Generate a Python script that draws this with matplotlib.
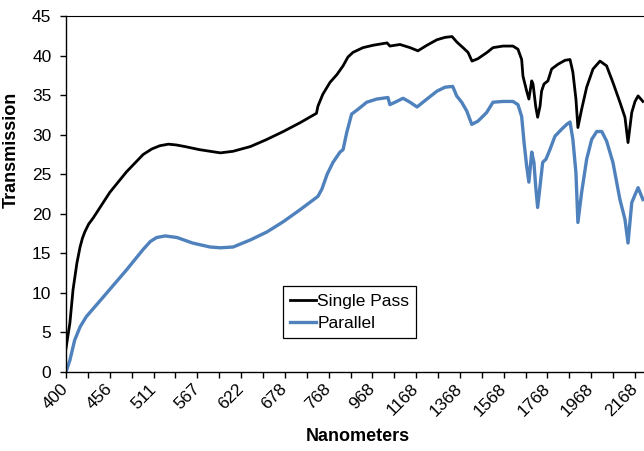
import matplotlib
matplotlib.use("Agg")
import matplotlib.pyplot as plt
import numpy as np

plt.rcParams['font.family'] = ['Liberation Sans', 'DejaVu Sans']

# category-style x axis: one label every 10 samples, as in the source sheet
tick_labels = ["400", "456", "511", "567", "622", "678", "768", "968",
               "1168", "1368", "1568", "1768", "1968", "2168"]

single_nm = [400, 405, 409, 414, 418, 421, 424, 429, 435, 456, 477, 498, 509,
             519, 530, 540, 551, 570, 583, 596, 612, 634, 655, 676, 709, 743,
             746, 756, 774, 806, 834, 856, 879, 925, 971, 1035, 1048, 1094,
             1140, 1176, 1217, 1263, 1300, 1332, 1354, 1382, 1405, 1423, 1450,
             1492, 1519, 1565, 1610, 1633, 1650, 1656, 1673, 1683, 1696, 1702,
             1714, 1723, 1734, 1741, 1752, 1770, 1787, 1816, 1848, 1871, 1884,
             1898, 1907, 1924, 1947, 1976, 2008, 2038, 2067, 2099, 2122, 2136,
             2153, 2168, 2182, 2204]
single_t = [3.0, 6.2, 10.4, 13.8, 15.8, 16.9, 17.7, 18.7, 19.5, 22.7, 25.3,
            27.5, 28.2, 28.6, 28.8, 28.7, 28.5, 28.1, 27.9, 27.7, 27.9, 28.5,
            29.4, 30.4, 31.5, 32.7, 33.6, 35.1, 36.6, 37.6, 38.7, 39.8, 40.4,
            41.0, 41.3, 41.6, 41.2, 41.4, 41.0, 40.6, 41.3, 42.0, 42.3, 42.4,
            41.7, 41.0, 40.4, 39.3, 39.6, 40.4, 41.0, 41.2, 41.2, 40.8, 39.5,
            37.4, 35.5, 34.5, 36.8, 36.4, 33.6, 32.2, 33.6, 35.5, 36.4, 36.8,
            38.3, 38.9, 39.4, 39.5, 37.9, 34.5, 30.9, 33.2, 36.0, 38.3, 39.3,
            38.7, 36.6, 34.1, 32.2, 29.0, 32.8, 34.2, 34.9, 34.2]

parallel_nm = [400, 405, 411, 418, 426, 447, 477, 498, 507, 515, 526, 541, 561,
               583, 596, 612, 634, 655, 676, 709, 746, 754, 765, 788, 820, 834,
               851, 873, 902, 942, 988, 1039, 1048, 1079, 1108, 1140, 1172, 1217,
               1263, 1300, 1335, 1353, 1376, 1399, 1422, 1450, 1490, 1519, 1565,
               1610, 1633, 1650, 1661, 1673, 1683, 1696, 1706, 1714, 1723, 1734,
               1746, 1761, 1779, 1802, 1833, 1856, 1871, 1884, 1898, 1907, 1924,
               1947, 1970, 1993, 2016, 2038, 2067, 2099, 2122, 2136, 2153, 2168,
               2182, 2204]
parallel_t = [0.0, 1.5, 4.0, 5.7, 7.0, 9.4, 12.9, 15.5, 16.5, 17.0, 17.2, 17.0,
              16.3, 15.8, 15.7, 15.8, 16.7, 17.7, 19.0, 20.5, 22.2, 23.1, 25.0,
              26.5, 27.8, 28.1, 30.3, 32.6, 33.2, 34.1, 34.5, 34.7, 33.8, 34.2,
              34.6, 34.1, 33.5, 34.5, 35.5, 36.0, 36.1, 34.9, 34.1, 33.0, 31.3,
              31.7, 32.8, 34.1, 34.2, 34.2, 33.8, 32.3, 29.0, 26.0, 24.0, 27.8,
              26.5, 23.5, 20.8, 23.5, 26.5, 26.9, 28.1, 29.8, 30.7, 31.3, 31.6,
              29.4, 25.2, 18.9, 22.7, 26.9, 29.4, 30.4, 30.4, 29.2, 26.5, 21.8,
              19.3, 16.3, 21.4, 22.4, 23.3, 21.8]

tick_nm = np.array([float(t) for t in tick_labels])
tick_pos = np.arange(len(tick_nm)) * 10.0


def fwd(x):
    x = np.asarray(x, dtype=float)
    p = np.interp(x, tick_nm, tick_pos)
    p = p + np.where(x > tick_nm[-1], (x - tick_nm[-1]) / 20.0, 0)
    p = p + np.where(x < tick_nm[0], (x - tick_nm[0]) / 5.56, 0)
    return p


def inv(p):
    p = np.asarray(p, dtype=float)
    x = np.interp(p, tick_pos, tick_nm)
    x = x + np.where(p > tick_pos[-1], (p - tick_pos[-1]) * 20.0, 0)
    x = x + np.where(p < tick_pos[0], (p - tick_pos[0]) * 5.56, 0)
    return x


fig = plt.figure(figsize=(6.44, 4.51), dpi=100)
ax = fig.add_axes([66/644, 79/451, 578/644, 356/451])
ax.set_xscale('function', functions=(fwd, inv))

ax.plot(single_nm, single_t, color='black', lw=2.0, label='Single Pass',
        solid_joinstyle='round')
ax.plot(parallel_nm, parallel_t, color='#4F81BD', lw=2.4, label='Parallel',
        solid_joinstyle='round')

ax.set_xlim(400, float(inv(132.05)))
ax.set_ylim(0, 45)
ax.set_yticks(np.arange(0, 46, 5))
ax.set_xticks(tick_nm)
ax.set_xticklabels(tick_labels, rotation=45, ha='right', va='center',
                   rotation_mode='anchor')
ax.set_xticks(inv(np.arange(5, 132, 10)), minor=True)

ax.tick_params(axis='both', which='both', direction='out', length=4.5,
               width=1, color='black', labelsize=12.5)
ax.tick_params(axis='x', which='major', pad=6)
ax.tick_params(axis='y', pad=6)

ax.spines['right'].set_visible(False)
ax.spines['top'].set_linewidth(0.8)
ax.spines['left'].set_linewidth(1.0)
ax.spines['bottom'].set_linewidth(1.0)

ax.set_xlabel('Nanometers', fontsize=13, fontweight='bold', va='top')
ax.xaxis.set_label_coords(0.505, -0.157)
ax.set_ylabel('Transmission', fontsize=13, fontweight='bold')
ax.yaxis.set_label_coords(-0.08, 0.624)

leg = ax.legend(loc='lower left', bbox_to_anchor=(283/644, 113/451),
                bbox_transform=fig.transFigure, borderaxespad=0,
                fontsize=12.5, handlelength=1.5, handletextpad=0.05,
                labelspacing=0.4, borderpad=0.42, fancybox=False,
                edgecolor='black', framealpha=1)
leg.get_frame().set_linewidth(0.9)

fig.savefig('out.png', dpi=100)
